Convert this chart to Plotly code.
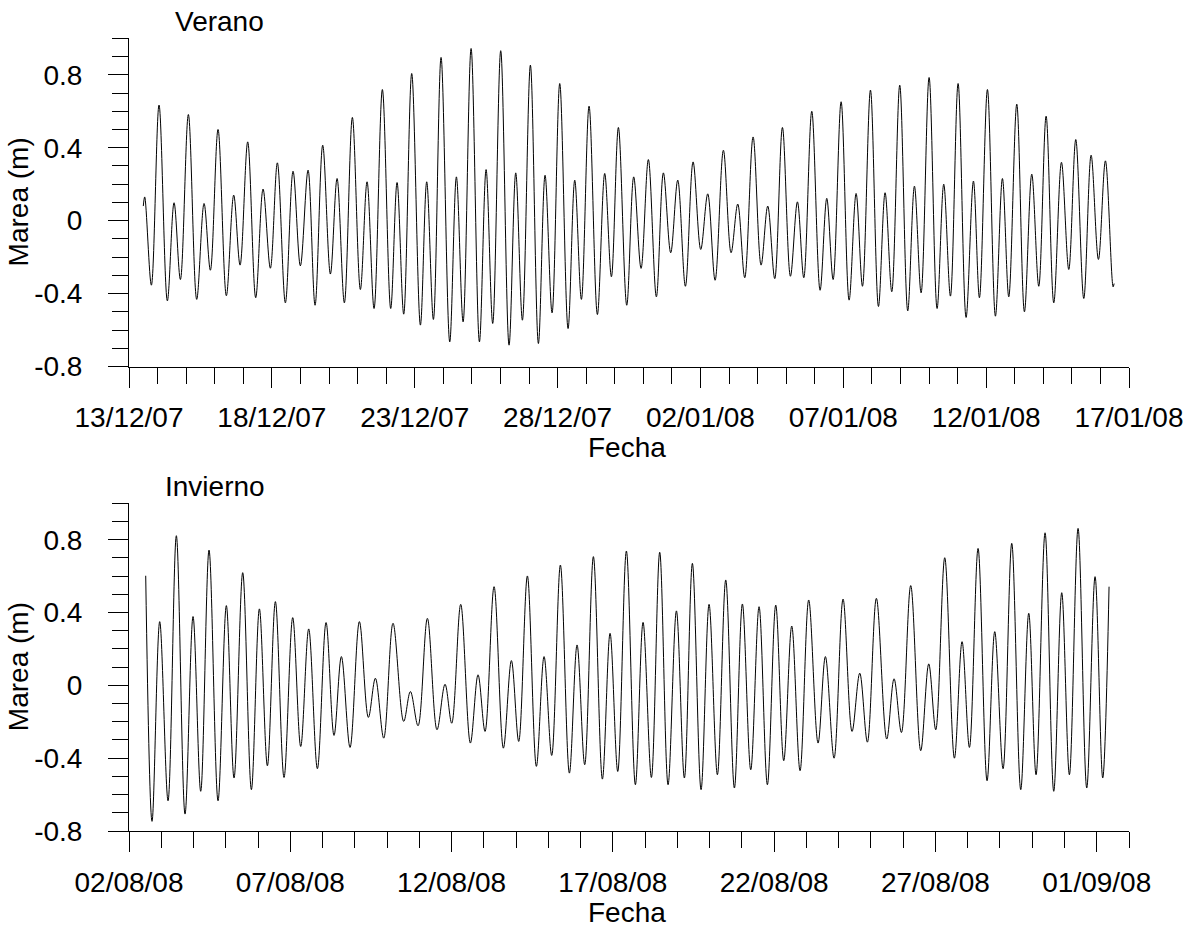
import pandas as pd
import plotly.graph_objects as go

# ---------------- data ----------------
# Verano: times in days after 13/12/07 00:00, sea level (m) at each high/low water
verano_start = "2007-12-13"
verano_days = [0.50, 0.550, 0.783, 1.051, 1.343, 1.577, 1.799, 2.078, 2.370, 2.627, 2.848,
               3.116, 3.408, 3.665, 3.887, 4.155, 4.435, 4.692, 4.948, 5.193, 5.473,
               5.742, 5.998, 6.267, 6.512, 6.780, 7.049, 7.282, 7.538, 7.818, 8.098,
               8.332, 8.577, 8.868, 9.160, 9.382, 9.615, 9.895, 10.199, 10.420, 10.654,
               10.922, 11.226, 11.459, 11.693, 11.973, 12.265, 12.498, 12.730, 13.010,
               13.302, 13.536, 13.769, 14.049, 14.329, 14.562, 14.807, 15.076, 15.367,
               15.601, 15.834, 16.102, 16.394, 16.650, 16.884, 17.129, 17.421, 17.665,
               17.922, 18.178, 18.458, 18.704, 18.960, 19.206, 19.474, 19.743, 20.011,
               20.256, 20.513, 20.804, 21.073, 21.306, 21.551, 21.843, 22.123, 22.356,
               22.601, 22.870, 23.150, 23.395, 23.617, 23.897, 24.188, 24.422, 24.644,
               24.924, 25.204, 25.449, 25.671, 25.951, 26.231, 26.463, 26.697, 26.976,
               27.256, 27.490, 27.723, 28.003, 28.283, 28.516, 28.750, 29.018, 29.298,
               29.555, 29.765, 30.045, 30.325, 30.570, 30.792, 31.072, 31.340, 31.597,
               31.842, 32.099, 32.367, 32.636, 32.892, 33.137, 33.417, 33.674, 33.930,
               34.175, 34.444, 34.479]
verano_marea = [0.08, 0.13, -0.354, 0.634, -0.44, 0.098, -0.323, 0.582, -0.432, 0.094, -0.272,
                0.50, -0.412, 0.14, -0.244, 0.432, -0.423, 0.173, -0.261, 0.317, -0.451,
                0.271, -0.248, 0.277, -0.464, 0.414, -0.293, 0.231, -0.451, 0.566, -0.378,
                0.213, -0.482, 0.719, -0.482, 0.209, -0.513, 0.807, -0.573, 0.213, -0.542,
                0.895, -0.665, 0.24, -0.555, 0.944, -0.665, 0.28, -0.564, 0.932,
                -0.683, 0.262, -0.546, 0.853, -0.674, 0.249, -0.506, 0.752, -0.592,
                0.222, -0.432, 0.628, -0.515, 0.259, -0.308, 0.511, -0.464, 0.24,
                -0.262, 0.335, -0.418, 0.262, -0.176, 0.222, -0.36, 0.322, -0.158,
                0.147, -0.327, 0.386, -0.176, 0.091, -0.313, 0.459, -0.244, 0.08,
                -0.318, 0.511, -0.305, 0.103, -0.313, 0.60, -0.382, 0.122, -0.323,
                0.652, -0.436, 0.149, -0.36, 0.716, -0.471, 0.153, -0.39, 0.743,
                -0.495, 0.189, -0.396, 0.785, -0.482, 0.20, -0.414, 0.752, -0.531,
                0.217, -0.423, 0.719, -0.524, 0.231, -0.418, 0.639, -0.50, 0.255,
                -0.36, 0.573, -0.451, 0.32, -0.268, 0.445, -0.427, 0.359, -0.213,
                0.328, -0.363, -0.345]

# Invierno: times in days after 02/08/08 00:00
invierno_start = "2008-08-02"
invierno_days = [0.518, 0.714, 0.952, 1.210, 1.468, 1.737, 1.985, 2.223, 2.481, 2.760, 3.018,
                 3.256, 3.525, 3.794, 4.042, 4.290, 4.538, 4.806, 5.075, 5.323, 5.571,
                 5.840, 6.109, 6.356, 6.584, 6.852, 7.142, 7.421, 7.638, 7.896, 8.185,
                 8.516, 8.723, 8.960, 9.250, 9.549, 9.797, 10.004, 10.283, 10.583, 10.820,
                 11.037, 11.317, 11.606, 11.854, 12.081, 12.350, 12.629, 12.867, 13.104,
                 13.373, 13.652, 13.890, 14.127, 14.396, 14.675, 14.913, 15.151, 15.419,
                 15.698, 15.936, 16.194, 16.452, 16.711, 16.970, 17.217, 17.465, 17.734,
                 17.982, 18.240, 18.499, 18.767, 19.015, 19.274, 19.532, 19.790, 20.049,
                 20.297, 20.545, 20.803, 21.071, 21.361, 21.588, 21.857, 22.136, 22.415,
                 22.653, 22.890, 23.169, 23.490, 23.717, 23.945, 24.233, 24.544, 24.792,
                 25.009, 25.288, 25.588, 25.825, 26.053, 26.321, 26.600, 26.838, 27.096,
                 27.365, 27.644, 27.892, 28.119, 28.398, 28.667, 28.915, 29.152, 29.421,
                 29.690, 29.948, 30.185, 30.382]
invierno_marea = [0.602, -0.747, 0.35, -0.634, 0.822, -0.707, 0.378, -0.582, 0.743, -0.634, 0.438,
                  -0.509, 0.619, -0.573, 0.42, -0.442, 0.46, -0.506, 0.372, -0.336, 0.31,
                  -0.458, 0.345, -0.275, 0.158, -0.341, 0.35, -0.176, 0.039, -0.29, 0.341,
                  -0.198, -0.034, -0.222, 0.368, -0.244, 0.006, -0.208, 0.445, -0.317, 0.058,
                  -0.253, 0.542, -0.345, 0.136, -0.308, 0.601, -0.445, 0.158, -0.385,
                  0.661, -0.482, 0.222, -0.436, 0.707, -0.515, 0.286, -0.473, 0.738,
                  -0.546, 0.346, -0.506, 0.731, -0.546, 0.409, -0.509, 0.67, -0.573,
                  0.445, -0.491, 0.579, -0.564, 0.447, -0.464, 0.432, -0.546, 0.441,
                  -0.414, 0.326, -0.469, 0.469, -0.317, 0.158, -0.40, 0.474, -0.253,
                  0.067, -0.312, 0.478, -0.295, 0.036, -0.259, 0.548, -0.359, 0.118,
                  -0.244, 0.701, -0.40, 0.24, -0.341, 0.752, -0.524, 0.295, -0.458,
                  0.78, -0.573, 0.396, -0.491, 0.838, -0.582, 0.509, -0.491, 0.862,
                  -0.564, 0.597, -0.509, 0.542]

verano_ticks = ["13/12/07", "18/12/07", "23/12/07", "28/12/07", "02/01/08", "07/01/08",
                "12/01/08", "17/01/08"]
invierno_ticks = ["02/08/08", "07/08/08", "12/08/08", "17/08/08", "22/08/08", "27/08/08",
                  "01/09/08"]
verano_range = ["2007-12-13", "2008-01-17"]
invierno_range = ["2008-08-02", "2008-09-02"]
y_ticks = [-0.8, -0.4, 0, 0.4, 0.8]
y_ticktext = ["-0.8", "-0.4", "0", "0.4", "0.8"]
y_range = [-0.8, 1.0]

# ---------------- figure ----------------
FONT = "Liberation Sans, Arial, sans-serif"
FS = 28
W, H = 1192, 928
ML, MR, MT, MB = 129, 63, 38, 97
PW, PH = W - ML - MR, H - MT - MB


def px_x(x):
    return (x - ML) / PW


def px_y(y):
    return (H - MB - y) / PH


def to_time(start, days):
    return pd.Timestamp(start) + pd.to_timedelta(days, unit="D")


fig = go.Figure()
fig.add_trace(go.Scatter(x=to_time(verano_start, verano_days), y=verano_marea,
                         mode="lines", line=dict(color="black", width=1, shape="spline", smoothing=1.0),
                         xaxis="x", yaxis="y", showlegend=False))
fig.add_trace(go.Scatter(x=to_time(invierno_start, invierno_days), y=invierno_marea,
                         mode="lines", line=dict(color="black", width=1, shape="spline", smoothing=1.0),
                         xaxis="x2", yaxis="y2", showlegend=False))


def xaxis(ticks, rng, anchor):
    tv = pd.to_datetime(ticks, format="%d/%m/%y")
    return dict(anchor=anchor, range=rng, tickvals=tv, ticktext=ticks, automargin=False,
                showline=True, linecolor="black", linewidth=1, showgrid=False, zeroline=False,
                ticks="outside", ticklen=20, tickwidth=1, tickcolor="black",
                tickfont=dict(family=FONT, size=FS, color="black"),
                ticklabelstandoff=6,
                minor=dict(dtick=86400000, tick0=rng[0], ticks="outside", ticklen=16,
                           tickwidth=1, tickcolor="black", showgrid=False))


def yaxis(top_px, bot_px, anchor):
    return dict(domain=[px_y(bot_px), px_y(top_px)], anchor=anchor, range=y_range,
                tickvals=y_ticks, ticktext=y_ticktext, automargin=False,
                showline=True, linecolor="black", linewidth=1, showgrid=False, zeroline=False,
                ticks="outside", ticklen=20, tickwidth=1, tickcolor="black",
                tickfont=dict(family=FONT, size=FS, color="black"),
                ticklabelstandoff=20,
                minor=dict(dtick=0.1, tick0=0, ticks="outside", ticklen=16,
                           tickwidth=1, tickcolor="black", showgrid=False))


panels = [(38.3, 366.5), (503.3, 831.0)]
titles = ["Verano", "Invierno"]
title_x = [219.5, 215.0]

ann = []
for (top, bot), t, tx in zip(panels, titles, title_x):
    tf = dict(family=FONT, size=FS, color="black")
    ann.append(dict(text=t, xref="paper", yref="paper", x=px_x(tx), y=px_y(top - 17),
                    xanchor="center", yanchor="middle", showarrow=False, font=tf))
    ann.append(dict(text="Fecha", xref="paper", yref="paper", x=px_x(627), y=px_y(bot + 81),
                    xanchor="center", yanchor="middle", showarrow=False, font=tf))
    ann.append(dict(text="Marea (m)", xref="paper", yref="paper", x=px_x(18),
                    y=px_y((top + bot) / 2), textangle=-90,
                    xanchor="center", yanchor="middle", showarrow=False, font=tf))

fig.update_layout(
    width=W, height=H,
    margin=dict(l=ML, r=MR, t=MT, b=MB),
    paper_bgcolor="white", plot_bgcolor="white",
    xaxis=xaxis(verano_ticks, verano_range, "y"),
    yaxis=yaxis(*panels[0], "x"),
    xaxis2=xaxis(invierno_ticks, invierno_range, "y2"),
    yaxis2=yaxis(*panels[1], "x2"),
    annotations=ann,
)

fig.write_html("out.html", config={"displayModeBar": False},
               post_script="document.body.style.margin='0';document.body.style.overflow='hidden';")
